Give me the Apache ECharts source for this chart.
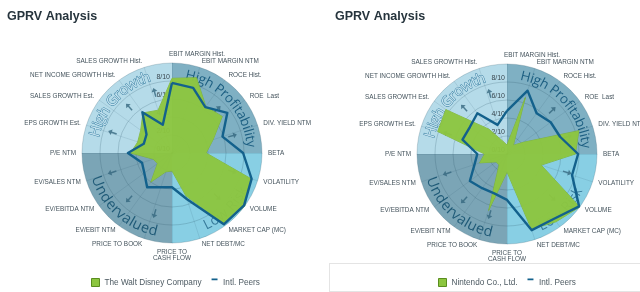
<!DOCTYPE html>
<html><head><meta charset="utf-8">
<script src="https://cdn.jsdelivr.net/npm/echarts@6/dist/echarts.min.js"></script>
<style>html,body{margin:0;padding:0;background:#fff}#c{width:640px;height:292px}</style>
</head><body><div id="c"></div>
<script>
// ---- data (clockwise from top) ----
const indicators = ['EBIT MARGIN Hist.', 'EBIT MARGIN NTM', 'ROCE Hist.', 'ROE  Last', 'DIV. YIELD NTM', 'BETA', 'VOLATILITY', 'VOLUME', 'MARKET CAP (MC)', 'NET DEBT/MC', 'PRICE TO\nCASH FLOW', 'PRICE TO BOOK', 'EV/EBIT NTM', 'EV/EBITDA NTM', 'EV/SALES NTM', 'P/E NTM', 'EPS GROWTH Est.', 'SALES GROWTH Est.', 'NET INCOME GROWTH Hist.', 'SALES GROWTH Hist.'];
const disney     = [8.3, 8.8, 6.4, 6.9, 4.8, 3.8, 9.2, 10, 9.8, 5.0, 2.0, 2.2, 4.0, 2.0, 2.2, 4.6, 4.0, 4.3, 5.5, 5.0];
const peersLeft  = [7.8, 7.6, 6.3, 7.6, 5.9, 7.9, 9.3, 9.9, 9.8, 5.4, 3.8, 4.0, 4.7, 3.8, 3.5, 4.9, 3.3, 3.5, 5.6, 3.3];
const nintendo   = [1.0, 6.6, 1.2, 2.2, 8.4, 7.6, 4.0, 10, 9.3, 8.8, 2.0, 6.6, 1.5, 1.5, 3.2, 2.5, 8.1, 8.4, 3.4, 1.5];
const peersRight = [4.8, 7.4, 5.6, 6.0, 6.2, 7.9, 7.6, 9.9, 8.9, 8.9, 5.1, 4.6, 4.7, 5.1, 3.8, 3.3, 5.2, 5.1, 5.6, 3.4];
const companyLeft = 'The Walt Disney Company';
const companyRight = 'Nintendo Co., Ltd.';
const peersName = 'Intl. Peers';
const titleText = 'GPRV Analysis';
const quadrants = ['High Profitability', 'Low Risk', 'Undervalued', 'High Growth'];
const quadrantColors = ['#7fb0c3', '#88cfe4', '#7ba5b6', '#b5dbe9'];
const arrowAngles = [106, 133, 161, 44, 16, -17, -44, -106, -133, -162];
const arrowRadius = 7;

// ---- layout ----
const charts = [{cx: 172, cy: 153, co: companyLeft, a: disney, b: peersLeft, tx: 2, lx: 86},
                {cx: 507, cy: 154, co: companyRight, a: nintendo, b: peersRight, tx: 330, lx: 433}];
const R = 90;
const GREEN = '#8cc63f', BLUE = '#13618c';

// radar goes counter-clockwise: reorder
function ccw(arr) { return [arr[0]].concat(arr.slice(1).reverse()); }

const chart = echarts.init(document.getElementById('c'), null, {renderer: 'canvas'});
const ctx = document.createElement('canvas').getContext('2d');

function arcText(str, cx, cy, r, startDeg, dir, fontSize, style) {
  const font = 'normal ' + fontSize + 'px "Open Sans", "Liberation Sans", sans-serif';
  ctx.font = font;
  const out = [];
  let acc = 0;
  for (const ch of str) {
    const w = ctx.measureText(ch).width;
    const th = (startDeg * Math.PI / 180) + dir * (acc + w / 2) / r;
    acc += w;
    if (ch === ' ') continue;
    const rot = dir < 0 ? th - Math.PI / 2 : th + Math.PI / 2;
    out.push({
      type: 'text', z: 3, silent: true,
      x: cx + r * Math.cos(th), y: cy - r * Math.sin(th), rotation: rot,
      style: Object.assign({text: ch, font: font, textAlign: 'center', textVerticalAlign: 'middle',
                            align: 'center', verticalAlign: 'middle'}, style)
    });
  }
  return out;
}

const radar = [], series = [], polar = [], angleAxis = [], radiusAxis = [], legend = [], title = [];
let graphic = [];
const indCcw = ccw(indicators);

charts.forEach((c, i) => {
  title.push({text: titleText, left: c.tx, top: 5,
    textStyle: {fontSize: 12.5, fontWeight: 'bold', color: '#26343d', fontFamily: 'Liberation Sans'}});
  radar.push({
    center: [c.cx, c.cy], radius: R, shape: 'circle', startAngle: 90, splitNumber: 5, z: 2,
    nameGap: 6,
    indicator: indCcw.map((n, k) => {
      const o = {name: n, min: 0, max: 10};
      if (k === 0) o.axisLabel = {show: true};
      return o;
    }),
    axisName: {
      color: '#44535c', fontSize: 6.4, fontFamily: 'Liberation Sans',
      formatter: (n) => n === indicators[0] ? '{l|' + n + '}' : n,
      rich: {l: {padding: [0, 0, 0, 50], fontSize: 6.4, color: '#44535c', fontFamily: 'Liberation Sans'}}
    },
    axisLabel: {show: false, fontSize: 7, color: '#3a4850', fontFamily: 'Liberation Sans',
      verticalAlign: 'bottom', margin: 2,
      formatter: (v) => v >= 10 ? '' : v + '/10'},
    axisLine: {lineStyle: {color: 'rgba(40,80,100,0.16)', width: 0.8}},
    axisTick: {show: false},
    splitLine: {lineStyle: {color: 'rgba(40,80,100,0.28)', width: 0.8}},
    splitArea: {show: false}
  });
  polar.push({center: [c.cx, c.cy], radius: R});
  angleAxis.push({polarIndex: i, type: 'value', min: 0, max: 360, startAngle: 0, clockwise: false, show: false});
  radiusAxis.push({polarIndex: i, type: 'value', min: 0, max: 10, show: false});
  series.push({
    type: 'pie', center: [c.cx, c.cy], radius: [0, R], startAngle: 90, z: 1, silent: true,
    label: {show: false}, labelLine: {show: false},
    data: quadrants.map((q, k) => ({name: q, value: 1, itemStyle: {color: quadrantColors[k]}}))
  });
  series.push({
    type: 'scatter', coordinateSystem: 'polar', polarIndex: i, z: 3, silent: true,
    symbol: 'path://M4,0 L8,4.5 L5,4.5 L5,11 L3,11 L3,4.5 L0,4.5 Z', symbolSize: [6, 9],
    itemStyle: {color: '#35667e'},
    data: arrowAngles.map(a => ({value: [arrowRadius, (a + 360) % 360], symbolRotate: a - 90}))
  });
  series.push({
    type: 'radar', radarIndex: i, z: 4, symbol: 'none', silent: true,
    data: [
      {name: c.co, value: ccw(c.a), lineStyle: {color: '#79ae33', width: 0.8},
       areaStyle: {color: GREEN, opacity: 0.96}, itemStyle: {color: GREEN}},
      {name: peersName, value: ccw(c.b), lineStyle: {color: BLUE, width: 2.4},
       areaStyle: {opacity: 0}, itemStyle: {color: BLUE}}
    ]
  });
  legend.push({
    left: c.lx, top: 273, itemWidth: 8, itemHeight: 8, itemGap: 9,
    textStyle: {fontSize: 8.2, color: '#4d5a62', fontFamily: 'Liberation Sans'},
    selectedMode: false,
    data: [
      {name: c.co, icon: 'rect', itemStyle: {color: GREEN, borderColor: '#5a8d1f', borderWidth: 1}},
      {name: peersName, icon: 'path://M1,0 L7,0 L7,1.8 L1,1.8 Z M0,8 L0.05,8 L0.05,8.05 Z', itemStyle: {color: BLUE}}
    ]
  });
  graphic = graphic
    .concat(arcText('High Growth', c.cx, c.cy, 79, 168, -1, 14.5, {fill: 'rgba(205,232,243,0.95)', stroke: '#2f789c', lineWidth: 0.9}))
    .concat(arcText('High Profitability', c.cx, c.cy, 79, 80, -1, 13.5, {fill: '#1d5f82'}))
    .concat(arcText('Undervalued', c.cx, c.cy, 80, 197, 1, 14.5, {fill: '#1f5a77'}))
    .concat(arcText('Low Risk', c.cx, c.cy, 80, -66, 1, 14, {fill: 'rgba(40,110,145,0.85)', stroke: 'rgba(170,225,240,0.6)', lineWidth: 0.5}));
});

graphic.push({type: 'line', z: 1, silent: true, shape: {x1: 329, y1: 263.5, x2: 640, y2: 263.5}, style: {stroke: '#e4e4e4', lineWidth: 1}});
graphic.push({type: 'line', z: 1, silent: true, shape: {x1: 329.5, y1: 263, x2: 329.5, y2: 292}, style: {stroke: '#e4e4e4', lineWidth: 1}});
graphic.push({type: 'line', z: 1, silent: true, shape: {x1: 329, y1: 291.5, x2: 640, y2: 291.5}, style: {stroke: '#e4e4e4', lineWidth: 1}});

chart.setOption({
  animation: false,
  title, radar, polar, angleAxis, radiusAxis, legend, series, graphic
});
</script></body></html>
